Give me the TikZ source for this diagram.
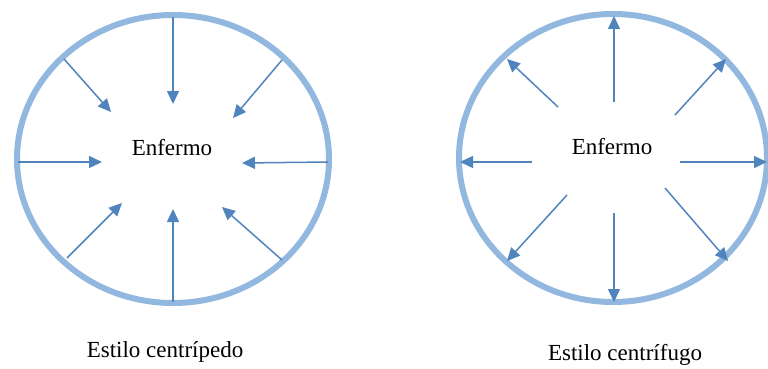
\documentclass[tikz,border=0pt]{standalone}
\usepackage{fontspec}
\setmainfont{Liberation Serif}
\newfontfamily\capfont{Liberation Serif}
\usetikzlibrary{arrows.meta}
\definecolor{ringblue}{RGB}{146,184,224}
\definecolor{arrowblue}{RGB}{80,132,188}
\tikzset{
  ring/.style={draw=ringblue, line width=6pt},
  flow/.style={draw=arrowblue, line width=1.5pt, -{Triangle[length=13pt,width=12pt]}},
  label/.style={font=\capfont\fontsize{23}{27}\selectfont, inner sep=0pt}
}
\begin{document}
\begin{tikzpicture}[x=1pt,y=-1pt]
\useasboundingbox (0,0) rectangle (768,369);
% left: centripetal
\draw[ring] (173,159) ellipse [x radius=156, y radius=144];
\node[label] (c1) at (172,148) {Enfermo};
\coordinate (l1s) at (173,17);  \coordinate (l1e) at (173,104);
\coordinate (l2s) at (64,59);   \coordinate (l2e) at (111,112);
\coordinate (l3s) at (282,60);  \coordinate (l3e) at (233,118);
\coordinate (l4s) at (18,162);  \coordinate (l4e) at (102,162);
\coordinate (l5s) at (328,162); \coordinate (l5e) at (242,163);
\coordinate (l6s) at (67,258);  \coordinate (l6e) at (122,203);
\coordinate (l7s) at (173,302); \coordinate (l7e) at (173,209);
\coordinate (l8s) at (282,260); \coordinate (l8e) at (222,207);
\foreach \i in {1,...,8} {\draw[flow] (l\i s) -- (l\i e);}
\node[label] (t1) at (165,352) {Estilo centrípedo};
% right: centrifugal
\draw[ring] (613,158) ellipse [x radius=154, y radius=144];
\node[label] (c2) at (612,147) {Enfermo};
\coordinate (r1s) at (614,102); \coordinate (r1e) at (614,16);
\coordinate (r2s) at (558,107); \coordinate (r2e) at (507,59);
\coordinate (r3s) at (675,115); \coordinate (r3e) at (726,59);
\coordinate (r4s) at (532,162); \coordinate (r4e) at (460,162);
\coordinate (r5s) at (680,162); \coordinate (r5e) at (767,162);
\coordinate (r6s) at (567,195); \coordinate (r6e) at (507,261);
\coordinate (r7s) at (614,213); \coordinate (r7e) at (614,302);
\coordinate (r8s) at (665,188); \coordinate (r8e) at (728,261);
\foreach \i in {1,...,8} {\draw[flow] (r\i s) -- (r\i e);}
\node[label] (t2) at (625,355) {Estilo centrífugo};
\end{tikzpicture}
\end{document}
